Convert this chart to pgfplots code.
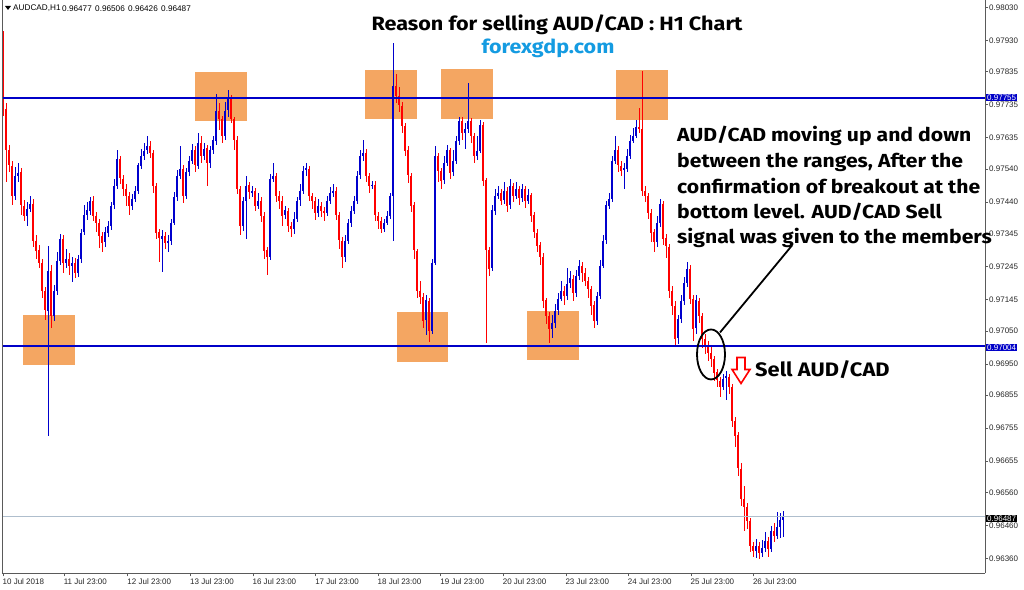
\documentclass[border=0pt]{standalone}
\usepackage{pgfplots}
\pgfplotsset{compat=1.18}
\usepackage{pgfplotstable}
\usepackage{graphicx}
\usepackage{fontspec}
\setmainfont{Liberation Sans}
\newfontfamily\annfont{Fira Sans}[FakeStretch=1.12]
\definecolor{upc}{RGB}{0,0,205}
\definecolor{dnc}{RGB}{255,0,0}
\definecolor{lvl}{RGB}{0,0,200}
\definecolor{zone}{RGB}{244,166,98}
\definecolor{site}{RGB}{20,155,225}
\definecolor{cur}{RGB}{175,190,205}
\definecolor{frame}{RGB}{90,90,90}

\pgfplotstableread{
k o h l c
0 0.97930 0.97960 0.97703 0.97724
1 0.97724 0.97740 0.97500 0.97597
2 0.97597 0.97612 0.97530 0.97551
3 0.97551 0.97566 0.97430 0.97460
4 0.97460 0.97545 0.97445 0.97521
5 0.97521 0.97560 0.97500 0.97530
6 0.97530 0.97545 0.97400 0.97430
7 0.97430 0.97448 0.97385 0.97400
8 0.97400 0.97440 0.97370 0.97421
9 0.97421 0.97460 0.97410 0.97436
10 0.97436 0.97450 0.97305 0.97324
11 0.97324 0.97340 0.97270 0.97294
12 0.97294 0.97310 0.97240 0.97257
13 0.97257 0.97270 0.97150 0.97172
14 0.97172 0.97185 0.97085 0.97112
15 0.97112 0.97309 0.96733 0.97233
16 0.97233 0.97250 0.97060 0.97096
17 0.97096 0.97190 0.97080 0.97172
18 0.97172 0.97290 0.97160 0.97263
19 0.97263 0.97345 0.97250 0.97330
20 0.97330 0.97340 0.97225 0.97257
21 0.97257 0.97300 0.97240 0.97269
22 0.97269 0.97285 0.97220 0.97248
23 0.97248 0.97275 0.97200 0.97257
24 0.97257 0.97270 0.97210 0.97227
25 0.97227 0.97280 0.97215 0.97269
26 0.97269 0.97360 0.97255 0.97348
27 0.97348 0.97430 0.97340 0.97400
28 0.97400 0.97440 0.97385 0.97415
29 0.97415 0.97455 0.97400 0.97445
30 0.97445 0.97460 0.97385 0.97400
31 0.97400 0.97410 0.97350 0.97378
32 0.97378 0.97390 0.97300 0.97339
33 0.97339 0.97350 0.97290 0.97318
34 0.97318 0.97365 0.97305 0.97348
35 0.97348 0.97385 0.97335 0.97369
36 0.97369 0.97440 0.97355 0.97430
37 0.97430 0.97510 0.97420 0.97490
38 0.97490 0.97600 0.97480 0.97572
39 0.97572 0.97580 0.97495 0.97512
40 0.97512 0.97525 0.97460 0.97481
41 0.97481 0.97495 0.97430 0.97460
42 0.97460 0.97470 0.97400 0.97430
43 0.97430 0.97465 0.97415 0.97451
44 0.97451 0.97490 0.97440 0.97475
45 0.97475 0.97560 0.97465 0.97551
46 0.97551 0.97600 0.97540 0.97581
47 0.97581 0.97620 0.97570 0.97597
48 0.97597 0.97640 0.97585 0.97612
49 0.97612 0.97625 0.97575 0.97590
50 0.97590 0.97600 0.97470 0.97490
51 0.97490 0.97500 0.97330 0.97348
52 0.97348 0.97360 0.97260 0.97330
53 0.97330 0.97355 0.97230 0.97339
54 0.97339 0.97350 0.97300 0.97318
55 0.97318 0.97340 0.97290 0.97324
56 0.97324 0.97390 0.97310 0.97378
57 0.97378 0.97470 0.97370 0.97457
58 0.97457 0.97540 0.97445 0.97521
59 0.97521 0.97610 0.97510 0.97542
60 0.97542 0.97555 0.97440 0.97460
61 0.97460 0.97545 0.97450 0.97530
62 0.97530 0.97580 0.97520 0.97566
63 0.97566 0.97615 0.97555 0.97597
64 0.97597 0.97610 0.97530 0.97551
65 0.97551 0.97650 0.97540 0.97621
66 0.97621 0.97640 0.97560 0.97581
67 0.97581 0.97620 0.97570 0.97603
68 0.97603 0.97615 0.97490 0.97560
69 0.97560 0.97610 0.97545 0.97597
70 0.97597 0.97640 0.97585 0.97627
71 0.97627 0.97770 0.97615 0.97718
72 0.97718 0.97740 0.97660 0.97693
73 0.97693 0.97700 0.97620 0.97642
74 0.97642 0.97745 0.97630 0.97718
75 0.97718 0.97780 0.97700 0.97754
76 0.97754 0.97765 0.97680 0.97693
77 0.97693 0.97700 0.97600 0.97627
78 0.97627 0.97640 0.97465 0.97481
79 0.97481 0.97490 0.97340 0.97369
80 0.97369 0.97455 0.97355 0.97445
81 0.97445 0.97520 0.97330 0.97490
82 0.97490 0.97500 0.97450 0.97469
83 0.97469 0.97490 0.97455 0.97475
84 0.97475 0.97485 0.97415 0.97430
85 0.97430 0.97470 0.97420 0.97445
86 0.97445 0.97455 0.97380 0.97400
87 0.97400 0.97410 0.97270 0.97294
88 0.97294 0.97305 0.97220 0.97275
89 0.97275 0.97525 0.97265 0.97512
90 0.97512 0.97560 0.97500 0.97521
91 0.97521 0.97530 0.97440 0.97460
92 0.97460 0.97475 0.97420 0.97445
93 0.97445 0.97460 0.97370 0.97400
94 0.97400 0.97430 0.97390 0.97415
95 0.97415 0.97425 0.97350 0.97369
96 0.97369 0.97380 0.97335 0.97360
97 0.97360 0.97410 0.97345 0.97390
98 0.97390 0.97455 0.97380 0.97445
99 0.97445 0.97495 0.97430 0.97475
100 0.97475 0.97550 0.97465 0.97536
101 0.97536 0.97560 0.97520 0.97542
102 0.97542 0.97550 0.97445 0.97460
103 0.97460 0.97470 0.97420 0.97445
104 0.97445 0.97455 0.97385 0.97409
105 0.97409 0.97450 0.97395 0.97430
106 0.97430 0.97440 0.97395 0.97415
107 0.97415 0.97425 0.97385 0.97409
108 0.97409 0.97460 0.97400 0.97445
109 0.97445 0.97485 0.97435 0.97469
110 0.97469 0.97495 0.97455 0.97475
111 0.97475 0.97485 0.97385 0.97400
112 0.97400 0.97410 0.97300 0.97324
113 0.97324 0.97335 0.97240 0.97275
114 0.97275 0.97340 0.97260 0.97324
115 0.97324 0.97390 0.97315 0.97378
116 0.97378 0.97430 0.97365 0.97415
117 0.97415 0.97460 0.97405 0.97445
118 0.97445 0.97535 0.97435 0.97521
119 0.97521 0.97600 0.97510 0.97581
120 0.97581 0.97630 0.97565 0.97590
121 0.97590 0.97600 0.97500 0.97518
122 0.97518 0.97530 0.97470 0.97490
123 0.97490 0.97505 0.97480 0.97493
124 0.97493 0.97505 0.97385 0.97400
125 0.97400 0.97410 0.97360 0.97384
126 0.97384 0.97395 0.97345 0.97360
127 0.97360 0.97390 0.97350 0.97378
128 0.97378 0.97415 0.97370 0.97400
129 0.97400 0.97470 0.97390 0.97460
130 0.97460 0.97924 0.97324 0.97793
131 0.97793 0.97830 0.97740 0.97763
132 0.97763 0.97790 0.97715 0.97733
133 0.97733 0.97745 0.97650 0.97672
134 0.97672 0.97680 0.97580 0.97597
135 0.97597 0.97610 0.97500 0.97521
136 0.97521 0.97530 0.97410 0.97430
137 0.97430 0.97440 0.97270 0.97294
138 0.97294 0.97300 0.97150 0.97172
139 0.97172 0.97200 0.97130 0.97154
140 0.97154 0.97165 0.97060 0.97081
141 0.97081 0.97160 0.97036 0.97142
142 0.97142 0.97150 0.97015 0.97051
143 0.97051 0.97270 0.97040 0.97257
144 0.97257 0.97610 0.97250 0.97581
145 0.97581 0.97590 0.97500 0.97536
146 0.97536 0.97545 0.97480 0.97506
147 0.97506 0.97580 0.97495 0.97560
148 0.97560 0.97615 0.97550 0.97597
149 0.97597 0.97605 0.97510 0.97530
150 0.97530 0.97600 0.97520 0.97566
151 0.97566 0.97640 0.97555 0.97627
152 0.97627 0.97700 0.97615 0.97687
153 0.97687 0.97700 0.97630 0.97651
154 0.97651 0.97680 0.97600 0.97663
155 0.97663 0.97800 0.97650 0.97687
156 0.97687 0.97695 0.97620 0.97642
157 0.97642 0.97650 0.97560 0.97581
158 0.97581 0.97640 0.97570 0.97597
159 0.97597 0.97690 0.97590 0.97675
160 0.97675 0.97685 0.97490 0.97506
161 0.97506 0.97515 0.97015 0.97294
162 0.97294 0.97305 0.97215 0.97239
163 0.97239 0.97430 0.97230 0.97415
164 0.97415 0.97480 0.97400 0.97460
165 0.97460 0.97490 0.97450 0.97469
166 0.97469 0.97480 0.97430 0.97445
167 0.97445 0.97500 0.97435 0.97475
168 0.97475 0.97485 0.97410 0.97430
169 0.97430 0.97510 0.97420 0.97490
170 0.97490 0.97500 0.97440 0.97460
171 0.97460 0.97500 0.97450 0.97481
172 0.97481 0.97490 0.97430 0.97451
173 0.97451 0.97495 0.97440 0.97481
174 0.97481 0.97490 0.97425 0.97445
175 0.97445 0.97480 0.97435 0.97463
176 0.97463 0.97470 0.97380 0.97400
177 0.97400 0.97410 0.97330 0.97348
178 0.97348 0.97360 0.97290 0.97309
179 0.97309 0.97320 0.97250 0.97275
180 0.97275 0.97285 0.97120 0.97142
181 0.97142 0.97150 0.97070 0.97094
182 0.97094 0.97110 0.97015 0.97057
183 0.97057 0.97100 0.97030 0.97075
184 0.97075 0.97130 0.97060 0.97112
185 0.97112 0.97165 0.97100 0.97148
186 0.97148 0.97200 0.97140 0.97172
187 0.97172 0.97185 0.97130 0.97157
188 0.97157 0.97240 0.97145 0.97194
189 0.97194 0.97230 0.97180 0.97209
190 0.97209 0.97220 0.97140 0.97166
191 0.97166 0.97235 0.97155 0.97218
192 0.97218 0.97265 0.97205 0.97248
193 0.97248 0.97260 0.97200 0.97227
194 0.97227 0.97240 0.97185 0.97203
195 0.97203 0.97215 0.97150 0.97178
196 0.97178 0.97185 0.97100 0.97127
197 0.97127 0.97140 0.97060 0.97081
198 0.97081 0.97170 0.97070 0.97157
199 0.97157 0.97265 0.97145 0.97248
200 0.97248 0.97340 0.97240 0.97324
201 0.97324 0.97445 0.97315 0.97430
202 0.97430 0.97470 0.97420 0.97451
203 0.97451 0.97580 0.97440 0.97566
204 0.97566 0.97640 0.97555 0.97597
205 0.97597 0.97610 0.97530 0.97551
206 0.97551 0.97565 0.97520 0.97536
207 0.97536 0.97560 0.97480 0.97542
208 0.97542 0.97600 0.97530 0.97581
209 0.97581 0.97645 0.97570 0.97627
210 0.97627 0.97665 0.97620 0.97642
211 0.97642 0.97690 0.97635 0.97669
212 0.97669 0.97727 0.97650 0.97663
213 0.97663 0.97839 0.97460 0.97475
214 0.97475 0.97490 0.97440 0.97460
215 0.97460 0.97470 0.97390 0.97409
216 0.97409 0.97420 0.97320 0.97348
217 0.97348 0.97360 0.97290 0.97318
218 0.97318 0.97400 0.97305 0.97378
219 0.97378 0.97450 0.97365 0.97436
220 0.97436 0.97445 0.97310 0.97330
221 0.97330 0.97345 0.97270 0.97306
222 0.97306 0.97315 0.97150 0.97172
223 0.97172 0.97185 0.97100 0.97127
224 0.97127 0.97140 0.97005 0.97027
225 0.97027 0.97100 0.97010 0.97087
226 0.97087 0.97160 0.97075 0.97142
227 0.97142 0.97215 0.97130 0.97196
228 0.97196 0.97260 0.97185 0.97239
229 0.97239 0.97250 0.97130 0.97148
230 0.97148 0.97160 0.97020 0.97057
231 0.97057 0.97160 0.97040 0.97142
232 0.97142 0.97150 0.97075 0.97096
233 0.97096 0.97105 0.97000 0.97027
234 0.97027 0.97040 0.96980 0.97006
235 0.97006 0.97020 0.96960 0.96984
236 0.96984 0.97000 0.96940 0.96966
237 0.96966 0.96975 0.96900 0.96924
238 0.96924 0.96935 0.96880 0.96900
239 0.96900 0.96910 0.96850 0.96881
240 0.96881 0.96920 0.96870 0.96906
241 0.96906 0.96930 0.96840 0.96912
242 0.96912 0.96920 0.96860 0.96881
243 0.96881 0.96890 0.96760 0.96778
244 0.96778 0.96790 0.96700 0.96733
245 0.96733 0.96745 0.96610 0.96633
246 0.96633 0.96650 0.96520 0.96542
247 0.96542 0.96580 0.96445 0.96518
248 0.96518 0.96530 0.96450 0.96475
249 0.96475 0.96485 0.96380 0.96400
250 0.96400 0.96410 0.96365 0.96385
251 0.96385 0.96420 0.96362 0.96400
252 0.96400 0.96410 0.96360 0.96378
253 0.96378 0.96415 0.96365 0.96394
254 0.96394 0.96440 0.96380 0.96415
255 0.96415 0.96425 0.96365 0.96391
256 0.96391 0.96460 0.96380 0.96445
257 0.96445 0.96470 0.96410 0.96427
258 0.96427 0.96500 0.96420 0.96457
259 0.96457 0.96500 0.96425 0.96477
260 0.96477 0.96506 0.96426 0.96487
}\candles

\begin{document}
\begin{tikzpicture}
\begin{scope}[x=1pt,y=1pt]
\path[use as bounding box] (0,0) rectangle (1024,589);
% support / resistance zones
\fill[zone] (23,274) rectangle (75,224);
\fill[zone] (195,517) rectangle (247,468);
\fill[zone] (365,519) rectangle (417,470);
\fill[zone] (441,520) rectangle (493,470);
\fill[zone] (397,277) rectangle (448,227);
\fill[zone] (527,278) rectangle (579,229);
\fill[zone] (616,519) rectangle (668,469);
\end{scope}

\begin{axis}[
  at={(2pt,16pt)}, anchor=south west, scale only axis,
  width=983pt, height=573pt,
  xmin=-0.33, xmax=327.33, ymin=0.96315, ymax=0.98051,
  axis x line*=bottom, axis y line*=right,
  axis line style={draw=frame, line width=0.9pt},
  tick align=outside, major tick length=3pt,
  tick style={draw=frame, line width=0.6pt},
  /pgf/number format/assume math mode=true,
  xtick={0,20.4,41.6,62.5,83.3,104.2,125,145.9,166.7,187.6,208.4,229.3,250.1},
  xticklabels={10 Jul 2018,11 Jul 23:00,12 Jul 23:00,13 Jul 23:00,16 Jul 23:00,17 Jul 23:00,18 Jul 23:00,19 Jul 23:00,20 Jul 23:00,23 Jul 23:00,24 Jul 23:00,25 Jul 23:00,26 Jul 23:00},
  xticklabel style={anchor=north west, inner sep=0pt, yshift=-2pt, xshift=-0.5pt},
  ytick={0.98030,0.97930,0.97835,0.97735,0.97635,0.97540,0.97440,0.97345,0.97245,0.97145,0.97050,0.96950,0.96855,0.96755,0.96655,0.96560,0.96460,0.96360},
  yticklabels={0.98030,0.97930,0.97835,0.97735,0.97635,0.97540,0.97440,0.97345,0.97245,0.97145,0.97050,0.96950,0.96855,0.96755,0.96655,0.96560,0.96460,0.96360},
  yticklabel style={anchor=west, inner sep=0pt, xshift=1pt},
  ticklabel style={font=\fontsize{8}{9}\selectfont, text=black!85},
]
% up candles
\addplot[draw=none, mark=none, forget plot,
  restrict expr to domain={\thisrow{c}-\thisrow{o}}{0:1},
  error bars/.cd, y dir=both, y explicit, error mark=none,
  error bar style={draw=upc, line width=0.75pt}]
  table[x=k, y expr={(\thisrow{h}+\thisrow{l})/2}, y error expr={(\thisrow{h}-\thisrow{l})/2}] {\candles};
\addplot[draw=none, mark=none, forget plot,
  restrict expr to domain={\thisrow{c}-\thisrow{o}}{0:1},
  error bars/.cd, y dir=both, y explicit, error mark=none,
  error bar style={draw=upc, line width=1.9pt}]
  table[x=k, y expr={(\thisrow{o}+\thisrow{c})/2}, y error expr={(\thisrow{c}-\thisrow{o})/2}] {\candles};
% down candles
\addplot[draw=none, mark=none, forget plot,
  restrict expr to domain={\thisrow{c}-\thisrow{o}}{-1:0},
  error bars/.cd, y dir=both, y explicit, error mark=none,
  error bar style={draw=dnc, line width=0.75pt}]
  table[x=k, y expr={(\thisrow{h}+\thisrow{l})/2}, y error expr={(\thisrow{h}-\thisrow{l})/2}] {\candles};
\addplot[draw=none, mark=none, forget plot,
  restrict expr to domain={\thisrow{c}-\thisrow{o}}{-1:0},
  error bars/.cd, y dir=both, y explicit, error mark=none,
  error bar style={draw=dnc, line width=1.9pt}]
  table[x=k, y expr={(\thisrow{o}+\thisrow{c})/2}, y error expr={(\thisrow{o}-\thisrow{c})/2}] {\candles};
% levels
\draw[lvl, line width=1.8pt] (axis cs:-0.33,0.97755) -- (axis cs:327.33,0.97755);
\draw[lvl, line width=1.8pt] (axis cs:-0.33,0.97004) -- (axis cs:327.33,0.97004);
\draw[cur, line width=0.8pt] (axis cs:-0.33,0.96487) -- (axis cs:327.33,0.96487);
\end{axis}

\begin{scope}[x=1pt,y=1pt]
\draw[frame, line width=0.9pt] (2,16) -- (2,589);
% price tags
\node[fill=lvl, text=white, inner sep=1pt, anchor=west, font=\fontsize{8}{9}\selectfont] at (986,492) {0.97755};
\node[fill=lvl, text=white, inner sep=1pt, anchor=west, font=\fontsize{8}{9}\selectfont] at (986,242) {0.97004};
\node[fill=black, text=white, inner sep=1pt, anchor=west, font=\fontsize{8}{9}\selectfont] at (986,71) {0.96487};
% header
\fill[black] (5,583.5) -- (11,583.5) -- (8,579.5) -- cycle;
\begin{scope}[every node/.style={anchor=west, inner sep=0pt, font=\fontsize{8.2}{9}\selectfont}]
\node at (13,581) {AUDCAD,H1};
\node at (62,581) {0.96477};
\node at (95,581) {0.96506};
\node at (128,581) {0.96426};
\node at (161,581) {0.96487};
\end{scope}
% title
\node[font=\annfont\bfseries\fontsize{19.3}{21}\selectfont] at (557,565) {Reason for selling AUD/CAD : H1 Chart};
\node[font=\annfont\bfseries\fontsize{19.2}{21}\selectfont, text=site] at (548,541) {forexgdp.com};
% annotation
\begin{scope}[every node/.style={anchor=base west, inner sep=0pt, font=\annfont\bfseries\fontsize{18.9}{21}\selectfont}]
\node at (677,448) {AUD/CAD moving up and down};
\node at (677,422) {between the ranges, After the};
\node at (677,396) {confirmation of breakout at the};
\node at (677,371) {bottom level. AUD/CAD Sell};
\node at (677,346) {signal was given to the members};
\end{scope}
\draw[black, line width=1.8pt] (711,235) ellipse [x radius=14, y radius=25];
\draw[black, line width=1.8pt] (720,257) -- (792,344);
\draw[dnc, fill=white, line width=1.6pt, line join=miter] (737,232) -- (745,232) -- (745,220) -- (750,220) -- (741,206) -- (732,220) -- (737,220) -- cycle;
\node[anchor=west, inner sep=0pt, font=\annfont\bfseries\fontsize{19.5}{21}\selectfont] at (755,220) {Sell AUD/CAD};
\end{scope}
\end{tikzpicture}
\end{document}
